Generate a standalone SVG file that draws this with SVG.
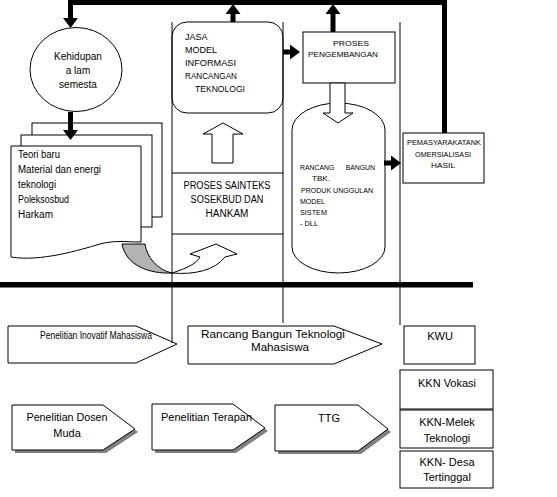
<svg xmlns="http://www.w3.org/2000/svg" width="557" height="497" viewBox="0 0 557 497">
<defs>
<style>
.ln{fill:none;stroke:#000;stroke-width:1}
.bx{fill:#fff;stroke:#000;stroke-width:1}
.thick{fill:none;stroke:#000;stroke-width:5}
.t{font-family:"Liberation Sans",Arial,sans-serif;fill:#000}
.s8{font-size:8px}
.s9{font-size:9px}
.s10{font-size:10px}
.s11{font-size:11px}
.c{text-anchor:middle}
</style>
<marker id="ah" markerWidth="3" markerHeight="3" refX="1.2" refY="1.5" orient="auto" markerUnits="strokeWidth">
<path d="M0,0 L2,1.5 L0,3 Z" fill="#000"/>
</marker>
</defs>
<rect width="557" height="497" fill="#fff"/>

<g id="node-ellipse">
<ellipse class="bx" cx="76" cy="69.5" rx="46" ry="42"/>
<text class="t s10 c" x="78" y="60">Kehidupan</text>
<text class="t s10 c" x="78" y="74">a lam</text>
<text class="t s10 c" x="78" y="88">semesta</text>
</g>

<g id="node-docs">
<rect class="bx" x="32" y="123" width="130" height="94"/>
<rect class="bx" x="21" y="135" width="131" height="92"/>
<path class="bx" d="M11,146 H141 V242 C125,242 115,240 100,244 C80,250 40,262 11,257 Z"/>
<text class="t s10" x="18" y="158" textLength="42" lengthAdjust="spacingAndGlyphs">Teori baru</text>
<text class="t s10" x="18" y="173" textLength="83" lengthAdjust="spacingAndGlyphs">Material dan energi</text>
<text class="t s10" x="18" y="188" textLength="38" lengthAdjust="spacingAndGlyphs">teknologi</text>
<text class="t s10" x="18" y="203" textLength="51" lengthAdjust="spacingAndGlyphs">Poleksosbud</text>
<text class="t s10" x="18" y="218" textLength="35" lengthAdjust="spacingAndGlyphs">Harkam</text>
</g>

<g id="node-curved-arrow">
<path d="M122,244 H145 C147,258 158,270 172,273 C150,274 126,266 122,244 Z" fill="#b3b3b3" stroke="#000" stroke-width="1"/>
<path class="bx" d="M172,273 C188,268 197,263 200,257 L190,254 L216,244 L237,254 L225,257 C215,270 195,275 172,273 Z"/>
</g>

<g id="node-jasa">
<rect class="bx" x="172" y="22" width="111" height="91" rx="15" ry="15"/>
<text class="t s9" x="185" y="40">JASA</text>
<text class="t s9" x="185" y="53">MODEL</text>
<text class="t s9" x="185" y="66" textLength="51" lengthAdjust="spacingAndGlyphs">INFORMASI</text>
<text class="t s9" x="185" y="79" textLength="52" lengthAdjust="spacingAndGlyphs">RANCANGAN</text>
<text class="t s9" x="195" y="92" textLength="50" lengthAdjust="spacingAndGlyphs">TEKNOLOGI</text>
</g>

<g id="node-up-arrow">
<path class="bx" d="M212,163 V134 H203 L223,123 L243,134 H233 V163 Z"/>
</g>

<g id="node-proses-saintek">
<text class="t s10 c" x="227" y="189" textLength="87" lengthAdjust="spacingAndGlyphs">PROSES SAINTEKS</text>
<text class="t s10 c" x="227" y="203" textLength="73" lengthAdjust="spacingAndGlyphs">SOSEKBUD DAN</text>
<text class="t s10 c" x="227" y="217">HANKAM</text>
</g>

<g id="node-pengembangan">
<rect class="bx" x="303" y="32" width="92" height="51"/>
<text class="t s8 c" x="351" y="46" textLength="36" lengthAdjust="spacingAndGlyphs">PROSES</text>
<text class="t s8 c" x="343" y="57" textLength="70" lengthAdjust="spacingAndGlyphs">PENGEMBANGAN</text>
</g>

<g id="node-cylinder">
<path class="bx" d="M292,130 A46.5,27 0 0 1 385,130 V247 A46.5,26 0 0 1 292,247 Z"/>
<path class="bx" d="M330,83 V113 H323 L338,123 L353,113 H345 V83 Z"/>
<text class="t s8" x="300" y="170" textLength="75" lengthAdjust="spacingAndGlyphs" xml:space="preserve" style="white-space:pre">RANCANG      BANGUN</text>
<text class="t s8" x="312" y="181" textLength="18" lengthAdjust="spacingAndGlyphs">TBK.</text>
<text class="t s8" x="301" y="193" textLength="72" lengthAdjust="spacingAndGlyphs">PRODUK UNGGULAN</text>
<text class="t s8" x="300" y="204" textLength="25" lengthAdjust="spacingAndGlyphs">MODEL</text>
<text class="t s8" x="300" y="215" textLength="27" lengthAdjust="spacingAndGlyphs">SISTEM</text>
<text class="t s8" x="300" y="226" textLength="18" lengthAdjust="spacingAndGlyphs">- DLL</text>
</g>

<g id="node-pemasyarakatan">
<rect class="bx" x="403" y="133" width="81" height="50"/>
<text class="t s8 c" x="444" y="145" textLength="74" lengthAdjust="spacingAndGlyphs">PEMASYARAKATANK</text>
<text class="t s8 c" x="443" y="157" textLength="56" lengthAdjust="spacingAndGlyphs">OMERSIALISASI</text>
<text class="t s8 c" x="443" y="168" textLength="24" lengthAdjust="spacingAndGlyphs">HASIL</text>
</g>

<g id="node-inovatif">
<path class="bx" d="M8,326 H136 L177,344 L136,363 H8 Z"/>
<text class="t s10" x="40" y="339" textLength="112" lengthAdjust="spacingAndGlyphs">Penelitian Inovatif Mahasiswa</text>
</g>

<g id="node-rancang">
<path class="bx" d="M188,326 H334 L382,344 L334,364 H188 Z"/>
<text class="t s11" x="201" y="338" textLength="144" lengthAdjust="spacingAndGlyphs">Rancang Bangun Teknologi</text>
<text class="t s11" x="251" y="351" textLength="58" lengthAdjust="spacingAndGlyphs">Mahasiswa</text>
</g>

<g id="node-kwu">
<rect class="bx" x="404" y="326" width="71" height="38"/>
<text class="t s11 c" x="440" y="340">KWU</text>
</g>

<g id="node-kkn-vokasi">
<rect class="bx" x="400" y="370" width="93" height="39"/>
<text class="t s11 c" x="447" y="387">KKN Vokasi</text>
</g>

<g id="node-kkn-melek">
<rect class="bx" x="400" y="410" width="93" height="38"/>
<text class="t s11 c" x="447" y="426">KKN-Melek</text>
<text class="t s11 c" x="447" y="442">Teknologi</text>
</g>

<g id="node-kkn-desa">
<rect class="bx" x="400" y="451" width="93" height="37"/>
<text class="t s11 c" x="447" y="466">KKN- Desa</text>
<text class="t s11 c" x="447" y="481">Tertinggal</text>
</g>

<g id="node-dosen-muda">
<path d="M15,408 H106 L138,432 L106,453 H15 Z" fill="#808080"/>
<path class="bx" d="M12,405 H103 L135,429 L103,450 H12 Z"/>
<text class="t s11 c" x="67" y="421" textLength="81" lengthAdjust="spacingAndGlyphs">Penelitian Dosen</text>
<text class="t s11 c" x="67" y="437">Muda</text>
</g>

<g id="node-terapan">
<path d="M155,407 H236 L268,431 L236,453 H155 Z" fill="#808080"/>
<path class="bx" d="M152,404 H233 L265,428 L233,450 H152 Z"/>
<text class="t s11" x="161" y="421" textLength="91" lengthAdjust="spacingAndGlyphs">Penelitian Terapan</text>
</g>

<g id="node-ttg">
<path d="M278,408 H361 L391,432 L361,454 H278 Z" fill="#808080"/>
<path class="bx" d="M275,405 H358 L388,429 L358,451 H275 Z"/>
<text class="t s11 c" x="329" y="422">TTG</text>
</g>

<g id="connectors">
<!-- column lines -->
<line class="ln" x1="172" y1="22" x2="172" y2="343"/>
<line class="ln" x1="283" y1="22" x2="283" y2="323"/>
<line class="ln" x1="400" y1="22" x2="400" y2="325"/>
<line class="ln" x1="172" y1="173" x2="283" y2="173"/>
<line class="ln" x1="172" y1="234" x2="283" y2="234"/>
<!-- thick horizontal divider -->
<rect x="0" y="282" width="473" height="5.5" fill="#000"/>
<!-- top feedback loop -->
<path class="thick" d="M444.5,133 V2.5 H70.5 V24" marker-end="url(#ah)"/>
<path class="thick" d="M233,22 V8" marker-end="url(#ah)"/>
<path class="thick" d="M333,32 V8" marker-end="url(#ah)"/>
<path class="thick" d="M70.5,112 V136" marker-end="url(#ah)"/>
<path class="thick" d="M283,52 H296" marker-end="url(#ah)"/>
<path class="thick" d="M384,163 H397" marker-end="url(#ah)"/>
</g>
</svg>
